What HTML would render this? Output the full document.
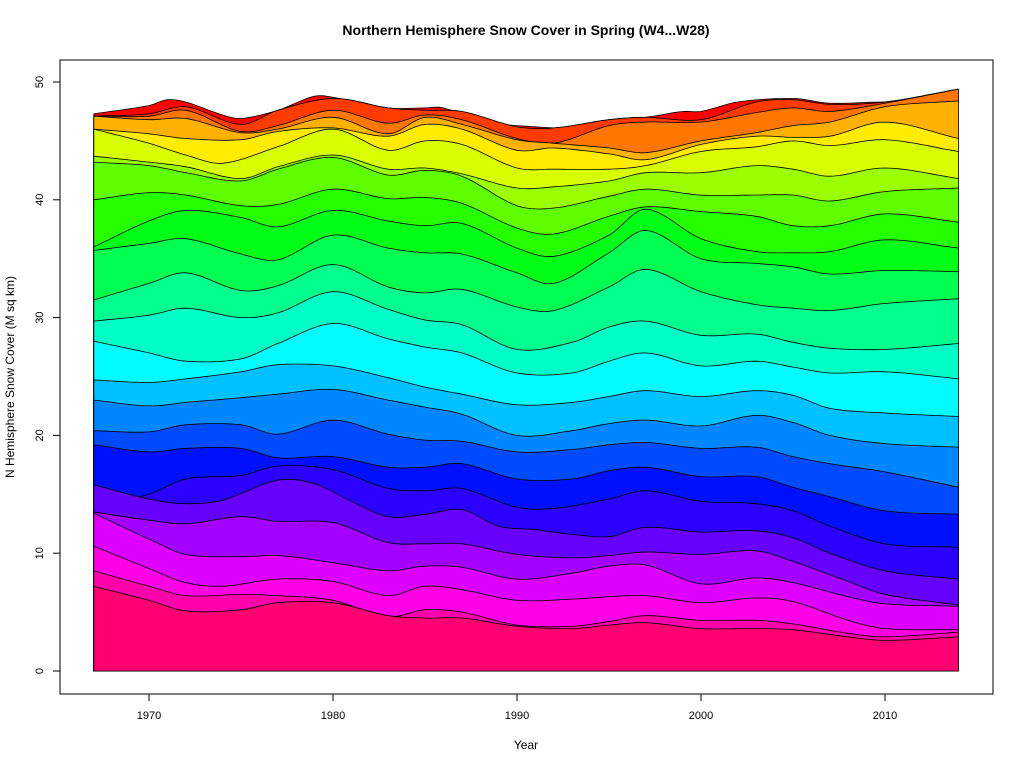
<!DOCTYPE html>
<html><head><meta charset="utf-8">
<style>
html,body{margin:0;padding:0;background:#fff;}
svg{display:block;font-family:"Liberation Sans","DejaVu Sans",sans-serif;}
</style></head>
<body>
<svg id="s" width="1024" height="768" viewBox="0 0 1024 768" xmlns="http://www.w3.org/2000/svg">
<rect width="1024" height="768" fill="#fff"/>
<g id="layers"></g>
<rect x="60" y="60" width="933" height="634" fill="none" stroke="#000" stroke-width="1"/>
<text x="526" y="35" text-anchor="middle" font-size="14" font-weight="bold">Northern Hemisphere Snow Cover in Spring (W4...W28)</text>
<text x="526" y="749" text-anchor="middle" font-size="12">Year</text>
<text transform="translate(14,377) rotate(-90)" text-anchor="middle" font-size="12">N Hemisphere Snow Cover (M sq km)</text>
<g stroke="#000" stroke-width="1">
<line x1="149" y1="694" x2="885" y2="694"/>
<line x1="149" y1="694" x2="149" y2="701"/><line x1="333" y1="694" x2="333" y2="701"/><line x1="517" y1="694" x2="517" y2="701"/><line x1="701" y1="694" x2="701" y2="701"/><line x1="885" y1="694" x2="885" y2="701"/>
<line x1="60" y1="82" x2="60" y2="671"/>
<line x1="53" y1="671" x2="60" y2="671"/><line x1="53" y1="553.2" x2="60" y2="553.2"/><line x1="53" y1="435.4" x2="60" y2="435.4"/><line x1="53" y1="317.6" x2="60" y2="317.6"/><line x1="53" y1="199.8" x2="60" y2="199.8"/><line x1="53" y1="82" x2="60" y2="82"/>
</g>
<g font-size="11" text-anchor="middle">
<text x="149" y="719">1970</text><text x="333" y="719">1980</text><text x="517" y="719">1990</text><text x="701" y="719">2000</text><text x="885" y="719">2010</text>
<text transform="translate(43,671) rotate(-90)">0</text>
<text transform="translate(43,553.2) rotate(-90)">10</text>
<text transform="translate(43,435.4) rotate(-90)">20</text>
<text transform="translate(43,317.6) rotate(-90)">30</text>
<text transform="translate(43,199.8) rotate(-90)">40</text>
<text transform="translate(43,82) rotate(-90)">50</text>
</g>
</svg>
<script>
(function(){
var D=[
[[1967,7.2],[1970,6.0],[1972,5.1],[1975,5.2],[1977,5.8],[1980,5.8],[1983,4.7],[1985,4.5],[1987,4.5],[1990,3.8],[1993,3.6],[1995,3.9],[1997,4.1],[2000,3.6],[2003,3.6],[2005,3.5],[2008,2.9],[2010,2.6],[2014,2.9]],
[[1967,8.5],[1970,7.2],[1972,6.4],[1975,6.5],[1977,6.4],[1980,6.0],[1983,4.6],[1985,5.2],[1987,5.0],[1990,3.9],[1993,3.8],[1995,4.2],[1997,4.7],[2000,4.3],[2003,4.3],[2005,4.0],[2008,3.2],[2010,2.9],[2014,3.3]],
[[1967,10.6],[1970,8.7],[1972,7.5],[1974,7.2],[1977,7.8],[1980,7.6],[1983,6.4],[1985,7.2],[1987,6.9],[1990,6.0],[1993,6.1],[1995,6.3],[1997,6.4],[2000,5.8],[2003,6.2],[2005,5.9],[2008,4.3],[2010,3.6],[2014,3.5]],
[[1967,13.4],[1970,11.2],[1972,9.9],[1975,9.7],[1977,9.8],[1980,9.2],[1983,8.5],[1985,8.9],[1987,8.8],[1990,7.8],[1993,8.3],[1995,8.9],[1997,9.0],[2000,7.4],[2003,7.9],[2005,7.5],[2008,6.3],[2010,5.7],[2014,5.5]],
[[1967,13.5],[1970,12.8],[1972,12.5],[1975,13.1],[1977,12.7],[1980,12.6],[1983,10.9],[1985,10.8],[1987,10.8],[1990,9.9],[1993,9.6],[1995,9.8],[1997,10.1],[2000,9.9],[2003,10.2],[2005,9.3],[2008,7.6],[2010,6.5],[2014,5.6]],
[[1967,15.8],[1970,14.6],[1972,14.2],[1974,14.5],[1977,16.2],[1979,15.9],[1981,14.4],[1983,13.1],[1985,13.3],[1987,13.7],[1989,12.3],[1991,12.0],[1993,11.6],[1995,11.4],[1997,12.2],[2000,11.8],[2003,11.9],[2005,11.3],[2007,10.0],[2010,8.5],[2014,7.8]],
[[1967,15.8],[1969,14.8],[1970,15.0],[1972,16.3],[1975,16.6],[1977,17.4],[1980,17.1],[1983,15.5],[1985,15.3],[1987,15.5],[1990,13.9],[1992,13.8],[1995,14.6],[1997,15.3],[2000,14.4],[2003,14.2],[2005,13.6],[2007,12.3],[2010,10.8],[2014,10.5]],
[[1967,19.2],[1970,18.6],[1972,18.9],[1975,18.9],[1977,18.1],[1980,18.2],[1983,17.3],[1985,17.3],[1987,17.6],[1990,16.3],[1993,16.3],[1995,17.0],[1997,17.3],[2000,16.5],[2003,16.5],[2005,15.6],[2007,14.8],[2010,13.6],[2014,13.3]],
[[1967,20.4],[1970,20.3],[1972,20.9],[1975,20.9],[1977,20.1],[1980,21.3],[1983,20.1],[1985,19.6],[1987,19.5],[1990,18.6],[1993,18.8],[1995,19.2],[1997,19.4],[2000,18.9],[2003,19.0],[2005,18.2],[2007,17.6],[2010,16.9],[2014,15.6]],
[[1967,23.0],[1970,22.5],[1972,22.8],[1975,23.2],[1977,23.5],[1980,23.9],[1983,23.0],[1985,22.4],[1987,21.8],[1990,20.0],[1993,20.4],[1995,21.0],[1997,21.3],[2000,20.8],[2003,21.7],[2005,21.1],[2007,20.0],[2010,19.3],[2014,19.0]],
[[1967,24.7],[1970,24.5],[1972,24.8],[1975,25.4],[1977,26.0],[1980,25.9],[1983,24.9],[1985,24.1],[1987,23.5],[1990,22.6],[1993,22.8],[1995,23.3],[1997,23.8],[2000,23.3],[2003,23.8],[2005,23.4],[2007,22.3],[2010,21.9],[2014,21.6]],
[[1967,28.0],[1970,27.0],[1972,26.3],[1975,26.5],[1977,27.8],[1980,29.5],[1983,28.2],[1985,27.5],[1987,27.0],[1990,25.3],[1993,25.3],[1995,26.3],[1997,27.0],[2000,25.9],[2003,26.3],[2005,25.8],[2007,25.3],[2010,25.4],[2014,24.8]],
[[1967,29.7],[1970,30.2],[1972,30.8],[1975,30.0],[1977,30.4],[1980,32.2],[1983,30.7],[1985,29.8],[1987,29.4],[1990,27.3],[1993,27.9],[1995,29.2],[1997,29.7],[2000,28.5],[2003,28.6],[2005,27.9],[2007,27.4],[2010,27.3],[2014,27.8]],
[[1967,31.5],[1970,32.9],[1972,33.8],[1975,32.3],[1977,32.7],[1980,34.5],[1983,32.6],[1985,32.1],[1987,32.4],[1990,30.9],[1992,30.6],[1995,32.6],[1997,34.1],[2000,32.2],[2003,31.1],[2005,30.8],[2007,30.6],[2010,31.2],[2014,31.6]],
[[1967,35.7],[1970,36.3],[1972,36.7],[1975,35.4],[1977,34.9],[1980,37.0],[1983,35.9],[1985,35.5],[1987,35.4],[1990,33.8],[1992,32.9],[1995,35.5],[1997,37.4],[2000,35.0],[2003,34.6],[2005,34.3],[2007,33.7],[2010,34.0],[2014,33.9]],
[[1967,36.0],[1970,38.2],[1972,39.1],[1975,38.5],[1977,37.7],[1980,39.1],[1983,38.2],[1985,37.8],[1987,38.0],[1990,35.9],[1992,35.2],[1995,37.0],[1997,39.2],[2000,36.7],[2003,35.6],[2005,35.5],[2007,35.6],[2010,36.6],[2014,35.9]],
[[1967,40.0],[1970,40.6],[1972,40.4],[1975,39.5],[1977,39.6],[1980,40.9],[1983,40.1],[1985,40.2],[1987,39.7],[1990,37.6],[1992,37.1],[1995,38.6],[1997,39.4],[2000,39.0],[2003,38.6],[2005,37.8],[2007,37.8],[2010,38.8],[2014,38.1]],
[[1967,43.2],[1970,42.9],[1972,42.3],[1975,41.6],[1977,42.6],[1980,43.6],[1983,42.1],[1985,42.5],[1987,42.0],[1990,39.5],[1992,39.3],[1995,40.3],[1997,40.9],[2000,40.4],[2003,40.4],[2005,40.4],[2007,39.9],[2010,40.7],[2014,41.0]],
[[1967,43.7],[1970,43.2],[1972,42.8],[1975,41.8],[1977,42.8],[1980,43.8],[1983,42.6],[1985,42.7],[1987,42.2],[1990,41.0],[1992,41.1],[1995,41.6],[1997,42.3],[2000,42.3],[2003,42.9],[2005,42.6],[2007,42.0],[2010,42.7],[2014,41.8]],
[[1967,46.0],[1970,44.8],[1972,43.8],[1974,43.1],[1977,44.5],[1980,46.0],[1983,44.2],[1985,45.0],[1987,44.7],[1990,42.7],[1992,42.6],[1995,42.6],[1997,42.9],[2000,44.1],[2003,44.5],[2005,45.0],[2007,44.6],[2010,45.1],[2014,44.1]],
[[1967,46.0],[1970,45.6],[1972,45.2],[1975,45.1],[1977,45.8],[1980,46.1],[1983,45.4],[1985,46.4],[1987,46.0],[1990,44.2],[1992,44.4],[1995,43.9],[1997,43.4],[2000,44.7],[2003,45.4],[2005,45.3],[2007,45.4],[2010,46.6],[2014,45.2]],
[[1967,47.1],[1970,46.8],[1972,46.9],[1975,45.7],[1977,46.0],[1980,47.0],[1983,45.6],[1985,47.0],[1987,46.4],[1990,45.1],[1992,44.8],[1995,44.4],[1997,44.0],[2000,45.0],[2003,45.7],[2005,46.3],[2007,46.6],[2010,47.9],[2014,48.4]],
[[1967,47.1],[1970,47.1],[1972,47.6],[1975,45.8],[1977,46.3],[1980,47.6],[1983,46.5],[1985,47.2],[1987,46.8],[1990,45.2],[1992,44.8],[1995,46.3],[1997,46.6],[2000,46.6],[2003,47.4],[2005,47.8],[2007,47.5],[2010,48.2],[2014,49.4]],
[[1967,47.1],[1970,47.3],[1972,47.9],[1975,46.4],[1977,47.6],[1980,48.6],[1983,47.8],[1985,47.6],[1987,47.5],[1990,46.2],[1992,46.1],[1995,46.8],[1997,47.0],[2000,46.8],[2003,48.3],[2005,48.5],[2007,48.1],[2010,48.3],[2014,49.4]],
[[1967,47.3],[1970,48.0],[1971,48.5],[1972,48.3],[1974,47.2],[1975,46.9],[1977,47.6],[1979,48.8],[1980,48.7],[1983,47.8],[1985,47.8],[1986,47.8],[1988,46.5],[1990,46.3],[1992,46.1],[1993,46.0],[1995,46.8],[1997,47.0],[1999,47.5],[2000,47.5],[2002,48.3],[2005,48.6],[2007,48.2],[2010,48.3],[2011,48.1],[2014,49.4]]
];
function interp(a,t){
  for(var i=0;i<a.length-1;i++){
    if(t>=a[i][0]&&t<=a[i+1][0]){
      var p0=a[Math.max(0,i-1)],p1=a[i],p2=a[i+1],p3=a[Math.min(a.length-1,i+2)];
      var u=(t-p1[0])/(p2[0]-p1[0]);
      var m1=(p2[1]-p0[1])/((p2[0]-p0[0])||1)*(p2[0]-p1[0]);
      var m2=(p3[1]-p1[1])/((p3[0]-p1[0])||1)*(p2[0]-p1[0]);
      var u2=u*u,u3=u2*u;
      return (2*u3-3*u2+1)*p1[1]+(u3-2*u2+u)*m1+(-2*u3+3*u2)*p2[1]+(u3-u2)*m2;
    }
  }
  return a[a.length-1][1];
}
var ts=[];for(var t=1967;t<=2014.0001;t+=0.25)ts.push(Math.min(t,2014));
var V=[];var prev=ts.map(function(){return 0;});
for(var k=0;k<D.length;k++){
  var row=ts.map(function(t,j){var v=interp(D[k],t);return Math.max(v,prev[j]);});
  V.push(row);prev=row;
}
function X(t){return 149+(t-1970)*18.4;}
function Y(v){return 671-v*11.78;}
function hsv(h){h=h%360;var c=255,x=Math.round(255*(1-Math.abs((h/60)%2-1)));var r,g,b;
 if(h<60){r=c;g=x;b=0}else if(h<120){r=x;g=c;b=0}else if(h<180){r=0;g=c;b=x}else if(h<240){r=0;g=x;b=c}else if(h<300){r=x;g=0;b=c}else{r=c;g=0;b=x}
 return "rgb("+r+","+g+","+b+")";}
var out="";
for(var k=D.length-1;k>=0;k--){
  var h=(24-k)*13.9;
  var d="M"+X(1967)+","+Y(0);
  for(var j=0;j<ts.length;j++)d+="L"+X(ts[j]).toFixed(1)+","+Y(V[k][j]).toFixed(1);
  d+="L"+X(2014)+","+Y(0)+"Z";
  out+='<path d="'+d+'" fill="'+hsv(h)+'" stroke="#000" stroke-width="0.8" stroke-linejoin="round"/>';
}
document.getElementById("layers").innerHTML=out;
})();
</script>
</body></html>
